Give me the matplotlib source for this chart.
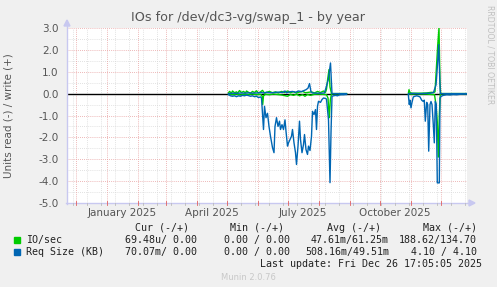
import numpy as np
import matplotlib
matplotlib.use("Agg")
import matplotlib.pyplot as plt
from matplotlib.lines import Line2D
from matplotlib.patches import Polygon, Rectangle
import matplotlib.transforms as mtrans

plt.rcParams['axes.unicode_minus'] = False
plt.rcParams['font.family'] = ['DejaVu Sans']

nan = np.nan
# ---------------- data (x = day of year 2025, 0 = Jan 1) ----------------
io_write_days = [122, 123, 125, 126, 128, 130, 131, 133, 135, 137, 139, 140, 142, 144, 146, 148, 150, 152, 154,
                 156, 158, 160, 163, 166, 169, 172, 175, 178, 181, 184, 187, 190, 193, 196, 199, 202, 205, 208,
                 211, 214, 217, 219, 220, 221, 222.5, 223.5, 225, 228, 232, 236, 240,
                 nan,
                 302, 302.5, 303.5, 305, 310, 315, 320, 325, 327, 328.5, 329.5, 331.2, 332.5, 333.5, 334.2,
                 340, 350, 360]
io_write = [0.03, 0.1, 0.02, 0.12, 0.04, 0.08, 0.02, 0.14, 0.05, 0.1, 0.03, 0.12, 0.06, 0.02, 0.1, 0.05, 0.13,
            0.03, 0.08, 0.15, 0.02, 0.06, 0.1, 0.04, 0.08, 0.03, 0.1, 0.05, 0.12, 0.04, 0.09, 0.03, 0.07, 0.1,
            0.04, 0.06, 0.08, 0.03, 0.1, 0.05, 0.12, 0.06, 0.2, 0.6, 1.1, 0.3, 0.0, 0.0, 0.0, 0.0, 0.0,
            nan,
            0.05, 0.18, 0.05, 0.02, 0.02, 0.02, 0.03, 0.06, 0.05, 0.08, 0.87, 2.2, 3.0, 0.5, 0.0,
            0.0, 0.0, 0.0]

io_read_days = [122, 126, 130, 134, 138, 142, 146, 150, 154, 155.5, 156.2, 157, 159, 163, 167, 171, 175, 181,
                184, 187, 190, 193, 196, 198.5, 201, 204, 208, 212, 216, 220, 221.5, 222.8, 223.8, 225, 230,
                235, 240,
                nan,
                302, 305, 310, 320, 328, 329.5, 330.8, 331.8, 332.8, 333.8, 340, 360]
io_read = [-0.02, -0.05, -0.02, -0.06, -0.03, -0.04, -0.02, -0.05, -0.03, -0.1, -0.5, -0.1, -0.03, -0.05,
           -0.02, -0.04, -0.06, -0.12, -0.04, -0.08, -0.03, -0.1, -0.05, -0.12, -0.04, -0.08, -0.03, -0.02,
           -0.03, -0.05, -0.2, -1.1, -0.3, 0.0, 0.0, 0.0, 0.0,
           nan,
           -0.02, -0.02, -0.01, -0.02, -0.05, -0.5, -1.3, -2.9, -1.0, 0.0, 0.0, 0.0]

req_read_days = [122, 124, 126, 128, 130, 132, 134, 136, 138, 140, 142, 144, 146, 148, 150, 152, 154, 155,
                 157, 158, 159.5, 161, 162.5, 164, 166, 167.5, 168.5, 170, 171.5, 173, 174, 175.5, 177, 178.5,
                 179.5, 181, 182, 183.5, 185, 186, 187.5, 189, 190, 191.5, 193, 194, 195.5, 197, 198, 199.5,
                 201, 202, 203.5, 205, 206, 207.5, 209, 210, 211, 212, 214, 215.5, 217, 219, 220, 222, 223.5,
                 224.5, 225.5, 227, 229, 231, 233, 235, 237, 239, 240,
                 nan,
                 301.8, 302.8, 303.5, 304.5, 305.5, 306.8, 308.5, 310.2, 311.8, 313.5, 315.2, 316.8, 317.8,
                 318.8, 320.2, 321.2, 322.2, 323.5, 324.5, 325.5, 326.8, 327.8, 328.8, 329.8, 330.8, 332.8,
                 333.5, 334.8, 336.8, 340.2, 343.5, 346.8, 350.2, 353.5, 356.8, 360]
req_read = [-0.05, -0.1, -0.12, -0.1, -0.14, -0.1, -0.12, -0.08, -0.1, -0.07, -0.09, -0.12, -0.1, -0.14,
            -0.12, -0.18, -0.15, -0.2, -1.64, -0.58, -1.1, -0.9, -1.5, -1.95, -2.47, -2.7, -1.5, -1.1, -1.5,
            -1.26, -1.64, -1.42, -1.64, -1.2, -1.72, -2.4, -2.25, -2.1, -1.95, -1.64, -2.25, -2.7, -3.24,
            -2.4, -1.26, -2.1, -2.7, -2.33, -1.87, -2.56, -2.78, -2.4, -2.6, -1.95, -0.81, -0.96, -0.73,
            -1.64, -0.58, -0.35, -0.4, -0.27, -0.2, -0.22, -0.25, -1.2, -4.07, -1.8, -0.12, -0.1, -0.08,
            -0.1, -0.06, -0.05, -0.05, -0.04, -0.04,
            nan,
            -0.05, -0.5, -0.3, -0.65, -0.4, -0.15, -0.12, -0.1, -0.12, -0.15, -0.3, -0.36, -0.3, -1.26,
            -0.4, -0.5, -2.63, -0.5, -0.36, -0.5, -1.42, -2.25, -0.36, -0.5, -4.08, -4.08, -0.2, -0.12,
            -0.08, -0.05, -0.06, -0.04, -0.05, -0.03, -0.02, -0.02]

req_write_days = [122, 126, 130, 134, 138, 142, 146, 150, 154, 157, 160, 164, 168, 172, 176, 178.5, 180, 183,
                  186, 189, 192, 195, 198, 199.5, 201.5, 203, 204.5, 206, 210, 214, 218, 221.8, 224, 225.5,
                  230, 235, 240,
                  nan,
                  302, 306, 312, 318, 324, 327, 329.5, 330.8, 332.2, 333.2, 333.8, 340, 350, 360]
req_write = [0.0, 0.02, 0.01, 0.03, 0.02, 0.04, 0.02, 0.03, 0.05, 0.03, 0.06, 0.04, 0.05, 0.07, 0.05, 0.12,
             0.04, 0.08, 0.1, 0.06, 0.12, 0.09, 0.15, 0.18, 0.25, 0.46, 0.08, 0.03, 0.02, 0.02, 0.03, 0.64,
             1.4, 0.0, 0.0, 0.0, 0.0,
             nan,
             0.0, 0.01, 0.0, 0.01, 0.02, 0.05, 0.4, 1.2, 2.24, 0.76, 0.0, 0.0, 0.0, 0.0]

month_starts = [-31, 0, 31, 59, 90, 120, 151, 181, 212, 243, 273, 304, 334]
month_labels = ["January 2025", "April 2025", "July 2025", "October 2025"]
month_label_pos = [15.5, 105, 196, 288.5]
minor_x = [-31 + 14 * k - 3 for k in range(0, 30)]

legend_rows = [
    ("IO/sec", "69.48u/ 0.00", "0.00 / 0.00", "47.61m/61.25m", "188.62/134.70"),
    ("Req Size (KB)", "70.07m/ 0.00", "0.00 / 0.00", "508.16m/49.51m", "4.10 / 4.10"),
]
colors = ['#00CC00', '#0066B3']

# ---------------- figure ----------------
W, H = 497, 287
fig = plt.figure(figsize=(W / 100, H / 100), dpi=100, facecolor='#F0F0F0')

def fx(x):
    return x / W

def fy(y):
    return 1 - y / H

L, R, T, B = 67, 467, 28, 203
ax = fig.add_axes([fx(L), fy(B), (R - L) / W, (B - T) / H])
ax.set_facecolor('white')
ax.set_xlim(-39.5, 360.5)
ax.set_ylim(-5, 3)

grid_dash = (0, (1, 1.5))
for v in np.arange(-4.5, 3.0, 1.0):
    ax.axhline(v, color='#d8d8d8', lw=0.6, ls=grid_dash, zorder=0)
for d in minor_x:
    if -39.5 < d <= 361:
        ax.axvline(d, color='#d8d8d8', lw=0.6, ls=grid_dash, zorder=0)
for v in range(-5, 4):
    ax.axhline(v, color='#e8a0a0', lw=0.6, ls=grid_dash, zorder=0.5)
for d in month_starts:
    ax.axvline(d, color='#e8a0a0', lw=0.6, ls=grid_dash, zorder=0.5)

ax.axhline(0, color='black', lw=1.0, zorder=1.5)

ax.plot(io_read_days, io_read, color=colors[0], lw=1.0, zorder=2)
ax.plot(io_write_days, io_write, color=colors[0], lw=1.0, zorder=2)
ax.plot(req_read_days, req_read, color=colors[1], lw=1.0, zorder=3)
ax.plot(req_write_days, req_write, color=colors[1], lw=1.0, zorder=3)

for s in ax.spines.values():
    s.set_visible(False)
ax.set_xticks([])
ax.set_yticks(range(-5, 4))
ax.set_yticklabels(['%.1f' % v for v in range(-5, 4)], fontsize=7.5, color='#555555')
ax.tick_params(axis='y', length=0, pad=6)

# axis lines with arrows
axcol = '#c8c8f0'
fig.add_artist(Line2D([fx(L), fx(L)], [fy(B + 1), fy(24)], color=axcol, lw=1.0))
fig.add_artist(Line2D([fx(L - 1), fx(470)], [fy(B), fy(B)], color=axcol, lw=1.0))
fig.add_artist(Polygon([[fx(L - 3), fy(26)], [fx(L + 3), fy(26)], [fx(L), fy(20)]], closed=True,
                       color=axcol, transform=fig.transFigure))
fig.add_artist(Polygon([[fx(469), fy(B - 3)], [fx(469), fy(B + 3)], [fx(475), fy(B)]], closed=True,
                       color=axcol, transform=fig.transFigure))

# x tick marks and labels
trans = mtrans.blended_transform_factory(ax.transData, fig.transFigure)
for d in minor_x:
    if -39.5 < d < 360.5:
        fig.add_artist(Line2D([d, d], [fy(B), fy(B + 2)], color='#bbbbbb', lw=0.6, transform=trans))
for d in month_starts:
    fig.add_artist(Line2D([d, d], [fy(B - 2), fy(B + 2)], color='#e06060', lw=0.6, transform=trans))
for lab, d in zip(month_labels, month_label_pos):
    fig.text(d, fy(213), lab, transform=trans, ha='center', va='center', fontsize=7.5, color='#555555')

# titles
fig.text(fx(248), fy(18), "IOs for /dev/dc3-vg/swap_1 - by year", ha='center', va='center',
         fontsize=9.2, color='#555555')
fig.text(fx(9), fy((T + B) / 2), "Units read (-) / write (+)", rotation=90, ha='center', va='center',
         fontsize=7.5, color='#555555')
fig.text(fx(490), fy(5), "RRDTOOL / TOBI OETIKER", rotation=270, ha='center', va='top',
         fontsize=5.6, color='#c0c0c0')

# legend
mono = dict(family='DejaVu Sans Mono', fontsize=7.2, color='#222222', va='center', ha='left')
for txt, x in zip(["Cur (-/+)", "Min (-/+)", "Avg (-/+)", "Max (-/+)"], [135, 230, 327, 423]):
    fig.text(fx(x), fy(228), txt, **mono)
row_y = [240, 252]
for (name, cur, mn, avg, mx), y, c in zip(legend_rows, row_y, colors):
    fig.add_artist(Rectangle((fx(14), fy(y + 3)), 6 / W, 6 / H, color=c, transform=fig.transFigure))
    fig.text(fx(26), fy(y), name, **mono)
    fig.text(fx(125), fy(y), cur, **mono)
    fig.text(fx(224), fy(y), mn, **mono)
    fig.text(fx(389), fy(y), avg, **dict(mono, ha='right'))
    fig.text(fx(477), fy(y), mx, **dict(mono, ha='right'))
fig.text(fx(482), fy(264), "Last update: Fri Dec 26 17:05:05 2025", **dict(mono, ha='right'))
fig.text(fx(248), fy(277), "Munin 2.0.76", ha='center', va='center', fontsize=6, color='#c8c8c8')

fig.savefig("out.png", dpi=100, facecolor=fig.get_facecolor())
